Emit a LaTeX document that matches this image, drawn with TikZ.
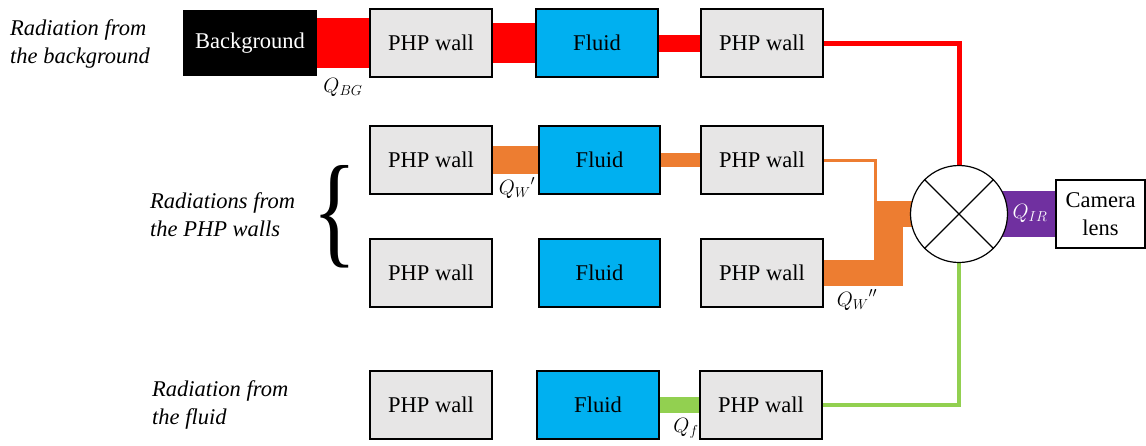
\documentclass[tikz,border=0pt]{standalone}
\usepackage{fontspec}
\setmainfont{Liberation Serif}
\usepackage{tikz}
\usetikzlibrary{backgrounds}
\definecolor{wallgray}{RGB}{231,230,230}
\definecolor{fluidblue}{RGB}{0,176,240}
\definecolor{wallorange}{RGB}{237,125,49}
\definecolor{fluidgreen}{RGB}{146,208,80}
\definecolor{irpurple}{RGB}{112,48,160}
\newcommand{\bigtext}{\fontsize{22.5}{28}\selectfont}
\tikzstyle{box}=[draw,line width=1.2pt,minimum width=122pt,minimum height=68pt,inner sep=0pt]
\tikzstyle{wall}=[box,fill=wallgray]
\tikzstyle{fluid}=[box,fill=fluidblue]
\tikzstyle{band}=[draw,-]
\tikzstyle{lbl}=[font=\bigtext\itshape,align=left,anchor=west,inner sep=2pt]

\begin{document}
\begin{tikzpicture}[x=1pt,y=-1pt,every node/.style={font=\bigtext}]
        \useasboundingbox (0,0) rectangle (1146,445);
        % source row: background
        \node[box,fill=black,text=white,minimum width=132pt,minimum height=64pt] (bg) at (250,43) {Background};
        \node[wall] (w1a) at (431,43) {PHP wall};
        \node[fluid] (f1) at (597,43) {Fluid};
        \node[wall] (w1b) at (762,43) {PHP wall};
        % walls
        \node[wall] (w2a) at (431,160) {PHP wall};
        \node[fluid,minimum width=121pt] (f2) at (599.5,160) {Fluid};
        \node[wall] (w2b) at (762,160) {PHP wall};
        \node[wall] (w3a) at (431,273) {PHP wall};
        \node[fluid,minimum width=121pt] (f3) at (599.5,273) {Fluid};
        \node[wall] (w3b) at (762,273) {PHP wall};
        % fluid
        \node[wall] (w4a) at (431,405) {PHP wall};
        \node[fluid] (f4) at (598,405) {Fluid};
        \node[wall] (w4b) at (761,405) {PHP wall};
        % mixer and camera
        \node[circle,draw,fill=white,line width=1.2pt,minimum size=97pt,inner sep=0pt] (mix) at (959,214) {};
        \draw[line width=1.2pt] (mix.north west) -- (mix.south east);
        \draw[line width=1.2pt] (mix.north east) -- (mix.south west);
        \node[draw,fill=white,line width=1.2pt,minimum width=89pt,minimum height=68pt,inner sep=0pt,align=center] (cam) at (1100.5,214) {Camera\\lens};
        \coordinate (wj) at (875,262);
        \begin{pgfonlayer}{background}
        \draw[band,red,line width=50pt] (bg) -- (w1a);
        \draw[band,red,line width=40pt] (w1a) -- (f1);
        \draw[band,red,line width=17pt] (f1) -- (w1b);
        \draw[band,red,line width=5pt] (w1b.east) -| (mix.north);
        \draw[band,wallorange,line width=28pt] (w2a) -- (f2);
        \draw[band,wallorange,line width=14pt] (f2) -- (w2b);
        \draw[band,wallorange,line width=3pt] (w2b.east) -| (wj);
        \draw[band,wallorange,line width=26pt] (w3b.east) -- ++(66,0) |- (mix.center);
        \draw[band,fluidgreen,line width=16pt] (f4) -- (w4b);
        \draw[band,fluidgreen,line width=4pt] (w4b.east) -| (mix.south);
        \draw[band,irpurple,line width=46pt] (mix.center) -- (cam.west);
        \end{pgfonlayer}
        % flux labels
        \node (qbg) at (343,87) {$Q_{BG}$};
        \node (qw1) at (517,188) {${Q_W}'$};
        \node (qw2) at (857,300) {${Q_W}''$};
        \node (qf) at (686,428) {$Q_f$};
        \node[text=white] (qir) at (1030,213) {$Q_{IR}$};
        % left labels
        \node[lbl] (lbg) at (8,44) {Radiation from\\the background};
        \node[lbl] (lw) at (148,215) {Radiations from\\the PHP walls};
        \node[lbl] (lf) at (150,405) {Radiation from\\the fluid};
        \node[xscale=0.75,inner sep=0pt] (br) at (335,217) {\fontsize{124}{124}\selectfont\{};
      \end{tikzpicture}
\end{document}
